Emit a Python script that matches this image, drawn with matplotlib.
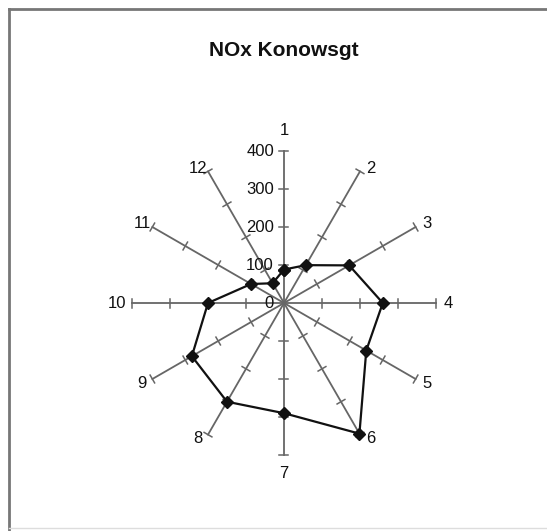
import numpy as np
import matplotlib.pyplot as plt
from matplotlib.lines import Line2D

plt.rcParams['font.family'] = ['Liberation Sans', 'DejaVu Sans']

categories = ['1', '2', '3', '4', '5', '6', '7', '8', '9', '10', '11', '12']
nox = [88, 115, 198, 260, 250, 397, 290, 300, 280, 200, 100, 60]
ring_ticks = [100, 200, 300, 400]
tick_labels = ['0', '100', '200', '300', '400']
r_max = 400

W, H = 547, 531
cx, cy = 284, 303          # centre in pixels (from top-left)
px_per_unit = 152 / r_max

fig = plt.figure(figsize=(W / 100, H / 100), dpi=100)
ax = fig.add_axes([0, 0, 1, 1])
ax.set_xlim(-cx / px_per_unit, (W - cx) / px_per_unit)
ax.set_ylim(-(H - cy) / px_per_unit, cy / px_per_unit)
ax.axis('off')

# outer frame (left/top dark, bottom faint)
fig.add_artist(Line2D([8.5 / W, 8.5 / W], [1 - 8.5 / H, 0], color='#777777', lw=2))
fig.add_artist(Line2D([8.5 / W, 1], [1 - 8.5 / H, 1 - 8.5 / H], color='#777777', lw=2))
fig.add_artist(Line2D([8.5 / W, 1], [1 - 528 / H, 1 - 528 / H], color='#dddddd', lw=1))

n = len(categories)
theta = np.arange(n) * 2 * np.pi / n
ux, uy = np.sin(theta), np.cos(theta)
tick_half = 4.5 / px_per_unit

# spokes with perpendicular tick marks
for i in range(n):
    ax.plot([0, r_max * ux[i]], [0, r_max * uy[i]], color='#666666', lw=1.3, zorder=1)
    px, py = uy[i], -ux[i]
    for t in ring_ticks:
        ax.plot([t * ux[i] - tick_half * px, t * ux[i] + tick_half * px],
                [t * uy[i] - tick_half * py, t * uy[i] + tick_half * py],
                color='#666666', lw=1.1, zorder=1)
    # label offset in pixels from the spoke end
    if abs(ux[i]) < 0.01:
        dx, dy = 0, (21 if uy[i] > 0 else -19)
    elif abs(uy[i]) < 0.01:
        dx, dy = (12 if ux[i] > 0 else -15), 0
    else:
        dx = 11 if ux[i] > 0 else -10
        dy = 3 if uy[i] > 0 else -4
    ax.text(r_max * ux[i] + dx / px_per_unit, r_max * uy[i] + dy / px_per_unit,
            categories[i], fontsize=12, ha='center', va='center', color='#111111')

# value labels along spoke 1
for k, lab in enumerate(tick_labels):
    ax.text(-10 / px_per_unit, k * 100, lab, fontsize=12, ha='right', va='center',
            color='#111111', zorder=2)

# data polygon
xs = np.array(nox) * ux
ys = np.array(nox) * uy
ax.plot(np.append(xs, xs[0]), np.append(ys, ys[0]), color='#111111', lw=1.6,
        marker='D', markersize=6.5, markerfacecolor='#111111', zorder=3)

fig.text(cx / W, 1 - 51 / H, 'NOx Konowsgt', fontsize=15, fontweight='bold',
         ha='center', va='center', color='#111111')

fig.savefig('out.png', dpi=100, facecolor='white')
